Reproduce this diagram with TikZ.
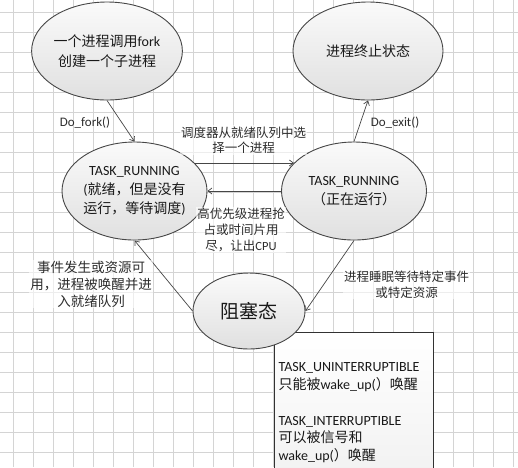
\documentclass[tikz,border=0pt]{standalone}
\usepackage{fontspec}
\setmainfont{Noto Sans CJK SC}
\newfontfamily\lat{Carlito}
\newcommand\en[1]{{\lat #1}}
\usetikzlibrary{shapes.geometric,arrows.meta}
\definecolor{gridc}{RGB}{212,212,212}
\definecolor{edgec}{RGB}{70,70,70}
\definecolor{txtc}{RGB}{25,25,25}
\definecolor{lblc}{RGB}{45,45,45}
\tikzset{
  gridline/.style={draw=gridc, line width=0.8pt},
  stateell/.style={ellipse, draw=edgec, line width=0.9pt, inner sep=0pt,
    top color={rgb,255:red,250;green,250;blue,250}, bottom color={rgb,255:red,224;green,224;blue,224},
    text=txtc, align=center, font=\fontsize{14}{19}\selectfont},
  infobox/.style={rectangle, draw={rgb,255:red,50;green,50;blue,50}, line width=1.2pt,
    top color=white, bottom color={rgb,255:red,240;green,240;blue,240},
    text=txtc, align=left, text width=151pt, inner xsep=4pt, inner ysep=30pt,
    font=\fontsize{14}{17.8}\selectfont},
  arr/.style={draw=edgec, line width=0.7pt, -{Straight Barb[length=4pt,width=6pt]}},
  lbl/.style={text=lblc, align=center, fill=white, fill opacity=0.6, text opacity=1, inner sep=1pt,
    font=\fontsize{12.5}{15.5}\selectfont},
  fnlbl/.style={text=lblc, inner sep=1pt, font=\lat\fontsize{13}{15}\selectfont},
}
\begin{document}
\begin{tikzpicture}[x=1pt,y=-1pt]
\clip (0,0) rectangle (518,467);
\fill[white] (0,0) rectangle (518,467);
\foreach \gx in {13,33,...,513} \draw[gridline] (\gx,0) -- (\gx,467);
\foreach \gy in {12,32,...,452} \draw[gridline] (0,\gy) -- (518,\gy);

\node[infobox, anchor=north west] (box) at (274,332)
  {\en{TASK\_UNINTERRUPTIBLE}\\只能被\en{wake\_up(}）唤醒\\[17.8pt]\en{TASK\_INTERRUPTIBLE}\\可以被信号和\\\en{wake\_up(}）唤醒};

\node[stateell, minimum width=150pt, minimum height=98pt] (fork) at (107,51)
  {一个进程调用\en{fork}\\[1pt]创建一个子进程};
\node[stateell, minimum width=150pt, minimum height=98pt] (term) at (368,51)
  {进程终止状态};
\node[stateell, minimum width=145pt, minimum height=98pt] (ready) at (134.5,191)
  {\en{TASK\_RUNNING}\\\en{(}就绪，但是没有\\运行，等待调度\en{)}};
\node[stateell, minimum width=145pt, minimum height=98pt] (running) at (354,191)
  {\en{TASK\_RUNNING}\\（正在运行）};
\node[stateell, minimum width=112pt, minimum height=76pt, font=\fontsize{19}{22}\selectfont] (blocked) at (249,311)
  {阻塞态};

\draw[arr] (fork.south) -- (ready.north);
\draw[arr] (running.north) -- (term.south);
\draw[arr] (ready.25) -- (running.155);
\draw[arr] (running.west) -- (ready.east);
\draw[arr] (running.south) -- (blocked.east);
\draw[arr] (blocked.west) -- (ready.south);

\node[fnlbl] (lfork) at (85,123) {Do\_fork()};
\node[fnlbl] (lexit) at (395,123) {Do\_exit()};
\node[lbl] (lsched) at (243.5,140) {调度器从就绪队列中选\\择一个进程};
\node[lbl, font=\fontsize{12.5}{16}\selectfont] (lpre) at (241,230) {高优先级进程抢\\占或时间片用\\尽，让出\en{CPU}};
\node[lbl] (lsleep) at (406.5,284.5) {进程睡眠等待特定事件\\或特定资源};
\node[lbl, font=\fontsize{13.5}{17}\selectfont] (lwake) at (91,284) {事件发生或资源可\\用，进程被唤醒并进\\入就绪队列};
\end{tikzpicture}
\end{document}
